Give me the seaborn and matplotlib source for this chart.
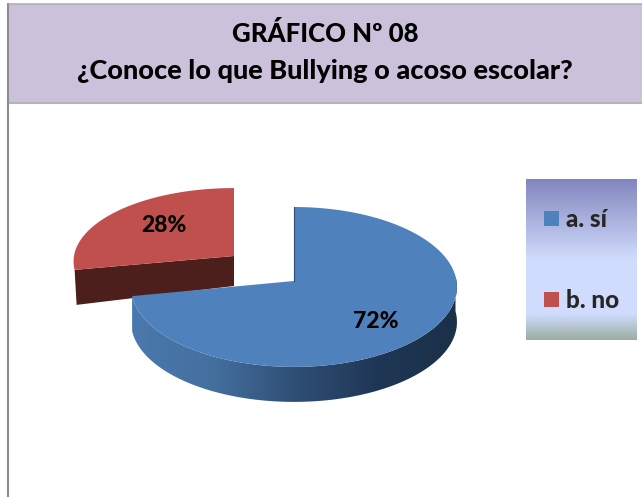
import numpy as np
import seaborn as sns
import matplotlib
matplotlib.use('Agg')
import matplotlib.pyplot as plt
from matplotlib.colors import LinearSegmentedColormap
from matplotlib.patches import Patch, Polygon, Rectangle

categories = ['a. sí', 'b. no']
percentages = [72, 28]
title_lines = ['GRÁFICO Nº 08', '¿Conoce lo que Bullying o acoso escolar?']

top_colors = ['#4F81BD', '#C0504D']
FONT = 'Lato'

sns.set_style('white')
plt.rcParams['font.family'] = [FONT, 'DejaVu Sans']

fig = plt.figure(figsize=(6.42, 4.97), dpi=100)
ax = fig.add_axes([0, 0, 1, 1])
ax.set_xlim(0, 642)
ax.set_ylim(497, 0)
ax.axis('off')


# flat 3D look: back of the pie is squeezed a bit, like the excel perspective
def project(theta, cx, cy, rx, ry, r=1.0, p=0.0745):
    u = r * np.cos(theta)
    v = r * np.sin(theta)
    k = 1 + p * v
    return cx + rx * u / k, cy - ry * v / k


# slice angles come from the values, clockwise from 12 o'clock
fracs = np.array(percentages) / sum(percentages)
start = np.pi / 2
end_blue = start - 2 * np.pi * fracs[0]

# header band
ax.add_patch(Rectangle((8, 4), 634, 99, fc='#CCC1DA', ec='none', zorder=1))
ax.plot([8, 642], [4, 4], color='#B0B0B0', lw=1.2, zorder=2)
ax.plot([8, 642], [103, 103], color='#B4B4B4', lw=1.5, zorder=2)
ax.plot([8, 8], [4, 497], color='#8C8C8C', lw=1.5, zorder=2)
ax.text(325, 33, title_lines[0], ha='center', va='center', fontsize=18.5,
        fontweight='black', color='black', zorder=3)
ax.text(325, 71, title_lines[1], ha='center', va='center', fontsize=19.5,
        fontweight='black', color='black', zorder=3)

# red slice (pulled out, behind the blue one)
rc = dict(cx=234, cy=256, rx=160, ry=73)
t = np.linspace(end_blue + 2 * np.pi, start, 80)
xr, yr = project(t, **rc)
depth = 35
ax.add_patch(Polygon([(xr[0], yr[0]), (rc['cx'], rc['cy']),
                      (rc['cx'], rc['cy'] + depth - 5), (xr[0] + 2, yr[0] + depth)],
                     fc='#4D1F1C', ec='none', zorder=4))
ax.add_patch(Polygon(np.r_[[[rc['cx'], rc['cy']]], np.c_[xr, yr]],
                     fc=top_colors[1], ec='none', zorder=5))

# blue slice side with the horizontal shading
bc = dict(cx=294, cy=281, rx=162.5, ry=79.5)
t_side = np.linspace(end_blue, 0.06, 200)
xs, ys = project(t_side, **bc)
side = Polygon(np.r_[np.c_[xs, ys], np.c_[xs[::-1], ys[::-1] + depth]],
               fc='none', ec='none', zorder=6)
ax.add_patch(side)
side_cmap = LinearSegmentedColormap.from_list(
    'side', ['#4B79AE', '#44709F', '#2F4F75', '#1F3756', '#1B3048'])
im = ax.imshow(np.linspace(0, 1, 256).reshape(1, -1), cmap=side_cmap, aspect='auto',
               extent=(129, 459, 497, 0), zorder=6)
im.set_clip_path(side)
ax.set_xlim(0, 642)
ax.set_ylim(497, 0)

# blue slice top
t = np.linspace(start, end_blue, 200)
xb, yb = project(t, **bc)
ax.add_patch(Polygon(np.r_[[[bc['cx'], bc['cy']]], np.c_[xb, yb]],
                     fc=top_colors[0], ec='none', zorder=7))
ax.plot([xb[0], bc['cx']], [yb[0], bc['cy']], color='#2B4A70', lw=0.8, zorder=8)

ax.text(376, 321, f'{percentages[0]}%', ha='center', va='center', fontsize=16.5,
        fontweight='black', color='black', zorder=9)
ax.text(164, 225, f'{percentages[1]}%', ha='center', va='center', fontsize=16.5,
        fontweight='black', color='black', zorder=9)

# legend box with gradient background
leg_cmap = LinearSegmentedColormap.from_list(
    'leg', [(0, '#8286BE'), (0.5, '#D0DCFD'), (0.84, '#D0DCFD'), (1, '#9CAE9F')])
ax.imshow(np.linspace(0, 1, 256).reshape(-1, 1), cmap=leg_cmap, aspect='auto',
          extent=(526, 637, 340, 179), zorder=1)
ax.set_xlim(0, 642)
ax.set_ylim(497, 0)

handles = [Patch(fc=c, ec='none') for c in top_colors]
leg = ax.legend(handles, categories, loc='upper left', bbox_to_anchor=(544 / 642, 1 - 208 / 497),
                frameon=False, borderpad=0, borderaxespad=0,
                handlelength=0.6, handleheight=0.6, handletextpad=0.3, labelspacing=2.38,
                prop={'family': FONT, 'weight': 'black', 'size': 17.5})
leg.set_zorder(10)

fig.savefig('out.png', dpi=100)
